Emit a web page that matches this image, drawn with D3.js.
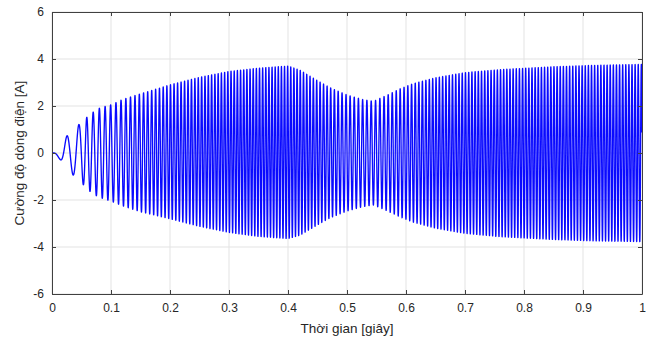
<!DOCTYPE html>
<html><head><meta charset="utf-8">
<script src="https://cdn.jsdelivr.net/npm/d3@7/dist/d3.min.js"></script>
<style>
html,body{margin:0;padding:0;background:#fff;}
svg{display:block;}
text{font-family:"Liberation Sans",Arial,Helvetica,sans-serif;fill:#262626;}
</style></head>
<body><svg id="c" width="653" height="343"></svg>
<script>
// ---- data ----
const xTicks = [0, 0.1, 0.2, 0.3, 0.4, 0.5, 0.6, 0.7, 0.8, 0.9, 1];
const xTickLabels = ["0", "0.1", "0.2", "0.3", "0.4", "0.5", "0.6", "0.7", "0.8", "0.9", "1"];
const yTicks = [-6, -4, -2, 0, 2, 4, 6];
const yTickLabels = ["-6", "-4", "-2", "0", "2", "4", "6"];
const xTitle = "Thời gian [giây]";
const yTitle = "Cường độ dòng điện [A]";

// envelope of the current (upper / lower peaks), seconds -> A
const envTime  = [0, 0.0136, 0.025, 0.035, 0.046, 0.052, 0.059, 0.065, 0.07, 0.076, 0.08, 0.09, 0.1, 0.12, 0.15, 0.2, 0.25, 0.3, 0.35, 0.4, 0.42, 0.443, 0.471, 0.5, 0.527, 0.545, 0.567, 0.59, 0.612, 0.65, 0.7, 0.76, 0.85, 0.92, 1.0];
const envUpper = [0, 0.35, 0.72, 0.98, 1.22, 1.38, 1.52, 1.64, 1.74, 1.84, 1.90, 1.98, 2.05, 2.28, 2.52, 2.90, 3.22, 3.47, 3.61, 3.70, 3.53, 3.18, 2.78, 2.47, 2.27, 2.20, 2.45, 2.73, 2.95, 3.20, 3.42, 3.55, 3.67, 3.73, 3.77];
const envLower = [0, -0.27, -0.60, -0.92, -1.15, -1.32, -1.50, -1.65, -1.74, -1.83, -1.88, -1.97, -2.05, -2.25, -2.50, -2.80, -3.12, -3.38, -3.55, -3.64, -3.50, -3.16, -2.76, -2.47, -2.28, -2.21, -2.45, -2.72, -2.94, -3.20, -3.42, -3.56, -3.68, -3.74, -3.77];

// oscillation frequency of the current, seconds -> Hz
const freqTime = [0, 0.0136, 0.025, 0.035, 0.046, 0.058, 0.07, 0.09, 0.1, 0.13, 0.2, 0.3, 0.4, 0.45, 0.5, 0.545, 0.6, 0.65, 0.75, 1.0];
const freqHz   = [0, 36, 50, 46, 56, 92, 92, 106, 108, 128, 165, 185, 190, 175, 145, 135, 155, 178, 187, 190];

// ---- layout ----
const W = 653, H = 343;
const m = {left: 52, right: 11, top: 12, bottom: 49};
const svg = d3.select("#c");
const pw = W - m.left - m.right, ph = H - m.top - m.bottom;

const x = d3.scaleLinear().domain([0, 1]).range([m.left, m.left + pw]);
const y = d3.scaleLinear().domain([-6, 6]).range([m.top + ph, m.top]);

const upS = d3.scaleLinear().domain(envTime).range(envUpper).clamp(true);
const loS = d3.scaleLinear().domain(envTime).range(envLower).clamp(true);
const fS  = d3.scaleLinear().domain(freqTime).range(freqHz).clamp(true);

// build the waveform from the envelope and frequency
const dt = 0.00004;
const pts = [];
let phase = 0, prevF = fS(0);
for (let i = 0; i * dt <= 1.0000001; i++) {
  const t = i * dt;
  const f = fS(t);
  if (i > 0) phase += 0.5 * (f + prevF) * dt;
  prevF = f;
  const u = upS(t), l = loS(t);
  const mid = (u + l) / 2, half = (u - l) / 2;
  pts.push([t, mid - half * Math.sin(2 * Math.PI * phase)]);
}

// grid
const g = svg.append("g");
g.selectAll("line.gx").data(xTicks).enter().append("line")
  .attr("x1", d => x(d)).attr("x2", d => x(d)).attr("y1", m.top).attr("y2", m.top + ph)
  .attr("stroke", "#e3e3e3").attr("stroke-width", 1);
g.selectAll("line.gy").data(yTicks).enter().append("line")
  .attr("y1", d => y(d)).attr("y2", d => y(d)).attr("x1", m.left).attr("x2", m.left + pw)
  .attr("stroke", "#e3e3e3").attr("stroke-width", 1);

// clip
svg.append("clipPath").attr("id", "clip").append("rect")
  .attr("x", m.left).attr("y", m.top).attr("width", pw).attr("height", ph);

svg.append("path").datum(pts)
  .attr("clip-path", "url(#clip)")
  .attr("fill", "none").attr("stroke", "#0a0aff").attr("stroke-width", 1.35)
  .attr("stroke-linejoin", "round")
  .attr("d", d3.line().x(d => x(d[0])).y(d => y(d[1])));

// axes (MATLAB style box, inward ticks)
const axCol = "#404040";
const xb = svg.append("g").attr("transform", `translate(0,${m.top + ph})`)
  .call(d3.axisBottom(x).tickValues(xTicks).tickFormat((d, i) => xTickLabels[i]).tickSizeInner(-4).tickSizeOuter(0).tickPadding(9));
const xt = svg.append("g").attr("transform", `translate(0,${m.top})`)
  .call(d3.axisTop(x).tickValues(xTicks).tickFormat("").tickSizeInner(-4).tickSizeOuter(0));
const yl = svg.append("g").attr("transform", `translate(${m.left},0)`)
  .call(d3.axisLeft(y).tickValues(yTicks).tickFormat((d, i) => yTickLabels[i]).tickSizeInner(-4).tickSizeOuter(0).tickPadding(8));
const yr = svg.append("g").attr("transform", `translate(${m.left + pw},0)`)
  .call(d3.axisRight(y).tickValues(yTicks).tickFormat("").tickSizeInner(-4).tickSizeOuter(0));
[xb, xt, yl, yr].forEach(a => {
  a.selectAll("path").attr("stroke", axCol);
  a.selectAll("line").attr("stroke", axCol);
  a.selectAll("text").attr("font-size", 12).attr("fill", "#262626")
    .style("font-family", '"Liberation Sans", Arial, sans-serif');
});

svg.append("text").attr("x", x(0.5)).attr("y", 333).attr("text-anchor", "middle")
  .attr("font-size", 13.5).text(xTitle);
svg.append("text").attr("transform", `translate(24,${y(0)}) rotate(-90)`)
  .attr("text-anchor", "middle").attr("font-size", 13.5).text(yTitle);
</script></body></html>
